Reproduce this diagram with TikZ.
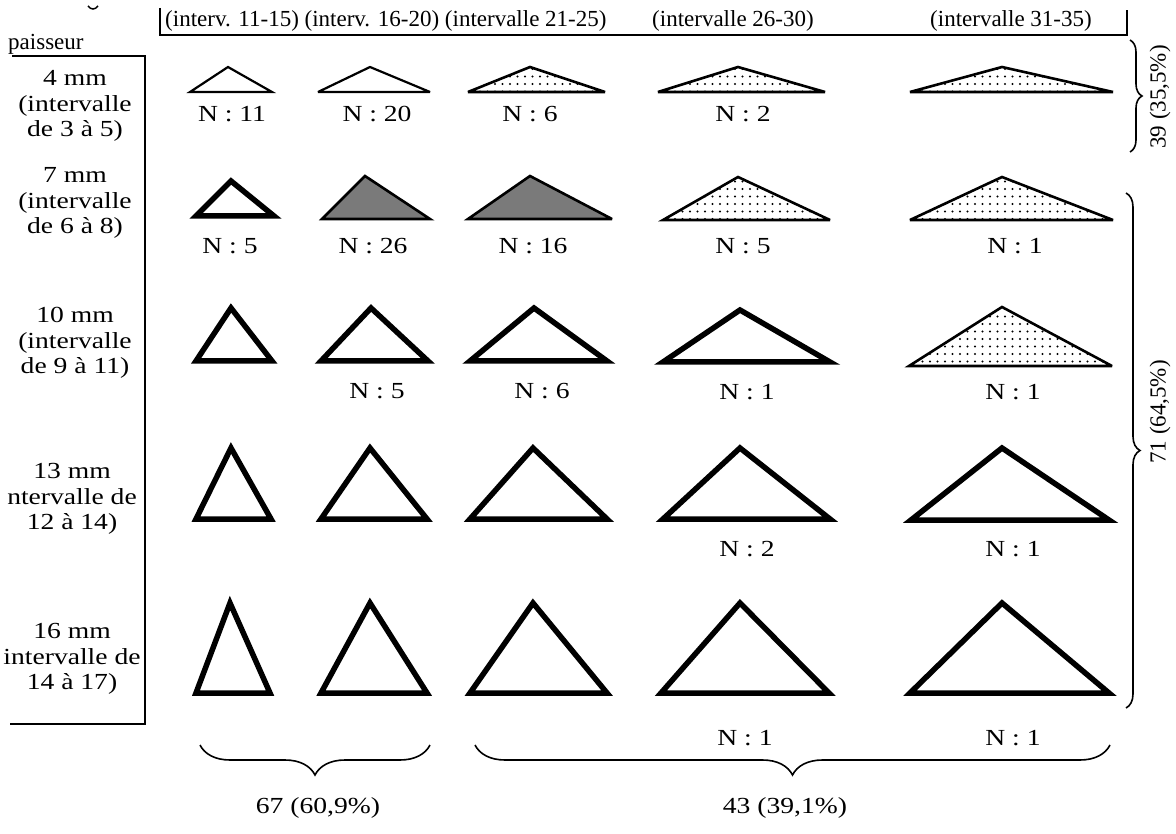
\documentclass[tikz,border=0pt]{standalone}
\usepackage{fontspec}
\setmainfont{Liberation Serif}
\newfontfamily\widefont{Liberation Serif}[FakeStretch=1.2]
\usetikzlibrary{decorations.pathreplacing,patterns.meta}
\newcommand\myfs{\fontsize{23}{25.5}\selectfont}
\newcommand\mywfs{\widefont\fontsize{23}{25.5}\selectfont}
\tikzset{
  tri/.style={draw=black, line join=miter, miter limit=4},
  plaintri/.style={tri, line width=2.2pt, fill=white},
  dottri/.style={tri, line width=2.6pt, pattern={Dots[distance=7.5pt, radius=1.1pt]}},
  darktri/.style={tri, line width=2.6pt, fill=black!52},
  heavytri/.style={tri, line width=5.5pt, fill=white},
  txt/.style={font=\myfs, inner sep=0pt, text=black},
  wtxt/.style={font=\mywfs, inner sep=0pt, text=black},
  rowlab/.style={wtxt, align=center},
  rule/.style={line width=1.8pt},
  brc/.style={decorate, line width=1.6pt},
}
% x1, apex x, x2, apex y, base y, style
\newcommand\mytri[6]{\draw[#6] (#1,#5) -- (#2,#4) -- (#3,#5) -- cycle;}
\newcommand\hvtri[5]{\draw[heavytri] ({#1+3},{#5-3}) -- (#2,{#4+5}) -- ({#3-3},{#5-3}) -- cycle;}
\begin{document}
\begin{tikzpicture}[x=1pt,y=-1pt]
\useasboundingbox[fill=white] (0,0) rectangle (1176,834);
% header
\node[txt, anchor=base west] (h1) at (165,27) {(interv. 11-15) (interv. 16-20) (intervalle 21-25)};
\node[txt, anchor=base west] (h2) at (652,27) {(intervalle 26-30)};
\node[txt, anchor=base west] (h3) at (930,27) {(intervalle 31-35)};
\draw[rule] (160,8) -- (160,35) -- (1127,35) -- (1127,10);
\node[txt, anchor=base west] (ep) at (8,50) {paisseur};
\draw[rule] (12,56) -- (145,56) -- (145,724) -- (10,724);
\draw[line width=1.5pt] (88,6) .. controls (91,10) and (95,10) .. (98,6);
% row labels
\node[rowlab] (r1) at (75,106) {4 mm\\(intervalle\\de 3 à 5)};
\node[rowlab] (r2) at (75,203) {7 mm\\(intervalle\\de 6 à 8)};
\node[rowlab] (r3) at (75,343) {10 mm\\(intervalle\\de 9 à 11)};
\node[rowlab] (r4) at (72,499) {13 mm\\ntervalle de\\12 à 14)};
\node[rowlab] (r5) at (72,659) {16 mm\\intervalle de\\14 à 17)};
% row 1
\mytri{190}{228}{272}{67}{92}{plaintri}
\mytri{318}{370}{430}{67}{92}{plaintri}
\mytri{468}{530}{605}{67}{92}{dottri}
\mytri{658}{738}{825}{67}{92}{dottri}
\mytri{910}{1002}{1113}{67}{92}{dottri}
\node[wtxt] (n11) at (232,114) {N : 11};
\node[wtxt] (n12) at (377,114) {N : 20};
\node[wtxt] (n13) at (530,114) {N : 6};
\node[wtxt] (n14) at (743,114) {N : 2};
% row 2
\hvtri{193}{231}{277}{176}{219}
\mytri{322}{365}{430}{176}{219}{darktri}
\mytri{468}{530}{612}{176}{219}{darktri}
\mytri{663}{738}{830}{177}{220}{dottri}
\mytri{910}{1002}{1113}{177}{220}{dottri}
\node[wtxt] (n21) at (230,246) {N : 5};
\node[wtxt] (n22) at (373,246) {N : 26};
\node[wtxt] (n23) at (533,246) {N : 16};
\node[wtxt] (n24) at (743,246) {N : 5};
\node[wtxt] (n25) at (1015,246) {N : 1};
% row 3
\hvtri{193}{231}{275}{303}{364}
\hvtri{318}{371}{431}{303}{364}
\hvtri{467}{534}{610}{303}{364}
\hvtri{660}{740}{833}{305}{365}
\mytri{909}{1002}{1112}{307}{366}{dottri}
\node[wtxt] (n32) at (377,391) {N : 5};
\node[wtxt] (n33) at (542,391) {N : 6};
\node[wtxt] (n34) at (747,392) {N : 1};
\node[wtxt] (n35) at (1013,392) {N : 1};
% row 4
\hvtri{193}{231}{274}{443}{522}
\hvtri{318}{370}{430}{443}{522}
\hvtri{467}{533}{610}{443}{522}
\hvtri{660}{740}{833}{443}{522}
\hvtri{908}{1002}{1112}{443}{523}
\node[wtxt] (n44) at (747,549) {N : 2};
\node[wtxt] (n45) at (1013,549) {N : 1};
% row 5
\hvtri{193}{230}{273}{598}{696}
\hvtri{318}{370}{430}{598}{696}
\hvtri{467}{533}{610}{598}{696}
\hvtri{658}{740}{832}{598}{696}
\hvtri{907}{1002}{1112}{598}{696}
\node[wtxt] (n54) at (745,738) {N : 1};
\node[wtxt] (n55) at (1013,738) {N : 1};
% right braces
\draw[brc, decoration={brace, amplitude=12pt}] (1130,40) -- (1130,152);
\node[txt, rotate=90] (s1) at (1160,97) {39 (35,5\%)};
\draw[brc, decoration={brace, amplitude=14pt}] (1126,193) -- (1126,708);
\node[txt, rotate=90] (s2) at (1160,412) {71 (64,5\%)};
% bottom braces
\draw[brc, decoration={brace, amplitude=30pt}] (430,745) -- (200,745);
\node[wtxt] (t1) at (318,808) {67 (60,9\%)};
\draw[brc, decoration={brace, amplitude=30pt}] (1110,745) -- (475,745);
\node[wtxt] (t2) at (785,808) {43 (39,1\%)};
\end{tikzpicture}
\end{document}
